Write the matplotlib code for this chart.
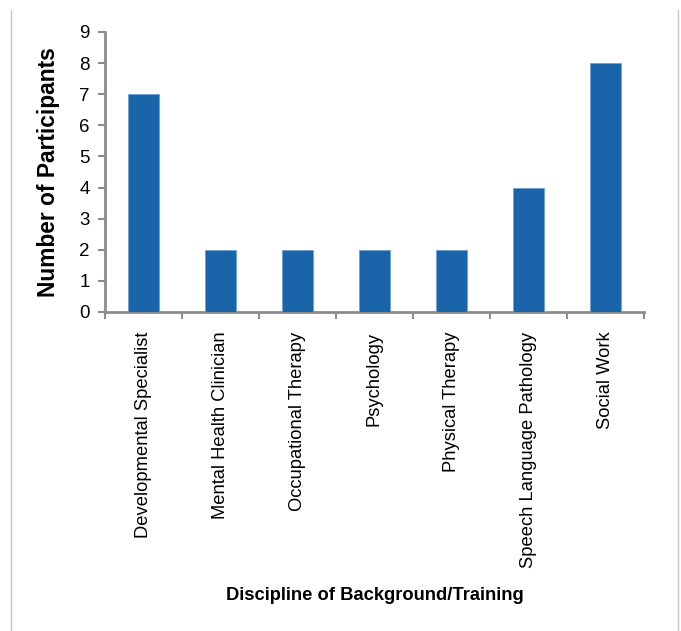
import matplotlib
matplotlib.use("Agg")
import matplotlib.pyplot as plt
from matplotlib.lines import Line2D

disciplines = [
    "Developmental Specialist",
    "Mental Health Clinician",
    "Occupational Therapy",
    "Psychology",
    "Physical Therapy",
    "Speech Language Pathology",
    "Social Work",
]
participants = [7, 2, 2, 2, 2, 4, 8]
y_ticks = list(range(0, 10))

plt.rcParams["font.family"] = ["Liberation Sans", "DejaVu Sans"]

W, H = 681, 631
fig = plt.figure(figsize=(W / 100, H / 100), dpi=100)
ax = fig.add_axes([105 / W, 1 - 312 / H, (644 - 105) / W, (312 - 32) / H])

bar_color = "#1a64aa"
x = list(range(len(disciplines)))
ax.bar(x, participants, width=0.39, color=bar_color, edgecolor="#6fa0d4",
       linewidth=0.6, zorder=3)

ax.set_xlim(-0.5, len(disciplines) - 0.5)
ax.set_ylim(0, 9)
ax.set_yticks(y_ticks)
ax.set_yticklabels([str(v) for v in y_ticks], fontsize=13.5)

# category labels between boundary ticks
ax.set_xticks(x)
ax.set_xticklabels(disciplines, rotation=90, fontsize=13.2, va="top")
ax.tick_params(axis="x", which="major", length=0, pad=14)
ax.set_xticks([i - 0.5 for i in range(len(disciplines) + 1)], minor=True)
ax.tick_params(axis="x", which="minor", length=5, width=1.5, color="#8c8c8c",
               direction="out")
ax.tick_params(axis="y", length=5, width=1.5, color="#8c8c8c", pad=6)

for side in ("top", "right"):
    ax.spines[side].set_visible(False)
for side in ("left", "bottom"):
    ax.spines[side].set_color("#8c8c8c")
    ax.spines[side].set_linewidth(2)

ax.set_ylabel("Number of Participants", fontsize=16.4, fontweight="bold",
              labelpad=14)
fig.text(374.5 / W, 1 - 596 / H, "Discipline of Background/Training",
         fontsize=13.2, fontweight="bold", ha="center", va="center")

# outer frame lines at the figure edges
for xp in (11, 678):
    fig.add_artist(Line2D([xp / W, xp / W], [0, 1 - 10 / H],
                          transform=fig.transFigure, color="#c8c8c8",
                          linewidth=1))

fig.savefig("out.png", dpi=100)
